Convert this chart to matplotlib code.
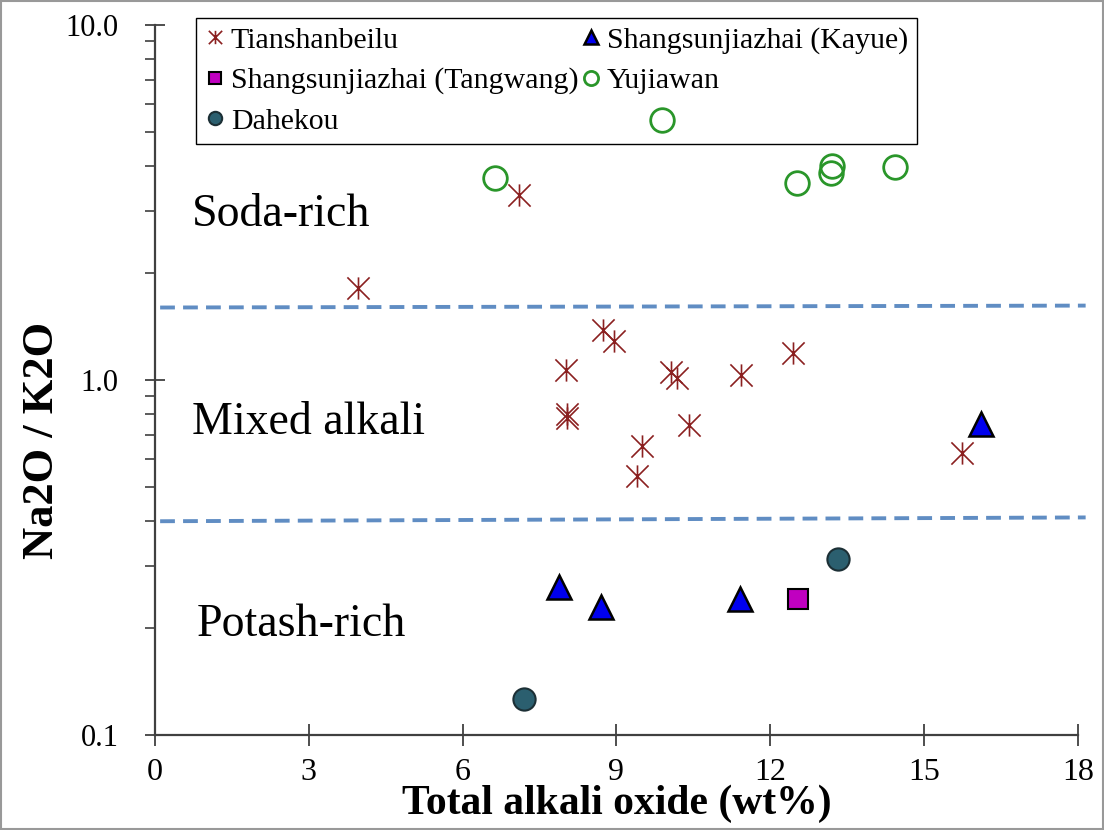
import matplotlib
matplotlib.use('Agg')
import matplotlib.pyplot as plt
from matplotlib.path import Path
from matplotlib.patches import Rectangle

plt.rcParams['font.family'] = ['Liberation Serif', 'DejaVu Serif']

# Total alkali (wt%) vs Na2O/K2O for each locality
tian_x = [3.96, 7.10, 8.01, 8.03, 8.03, 8.74, 8.95, 10.06, 10.18, 11.43, 12.44, 10.41, 9.50, 9.40, 15.74]
tian_y = [1.82, 3.32, 1.07, 0.80, 0.78, 1.38, 1.29, 1.05, 1.01, 1.03, 1.19, 0.747, 0.652, 0.537, 0.623]

kayue_x = [7.88, 8.70, 11.41, 16.11]
kayue_y = [0.261, 0.229, 0.242, 0.751]

tang_x = [12.54]
tang_y = [0.242]

yuji_x = [6.63, 9.89, 13.18, 13.20, 12.52, 14.43]
yuji_y = [3.71, 5.40, 3.83, 4.01, 3.59, 3.98]

dahe_x = [7.20, 13.32]
dahe_y = [0.126, 0.313]

# limites entre os campos
lim_x = [0.1, 18.15]
soda_lim = [1.60, 1.62]
potash_lim = [0.40, 0.41]

zonas = [('Soda-rich', 0.72, 2.92), ('Mixed alkali', 0.72, 0.757), ('Potash-rich', 0.82, 0.204)]

# asterisco estilo Excel: linha vertical + X
asterisco = Path([(0, -1), (0, 1), (-1, -1), (1, 1), (-1, 1), (1, -1)],
                 [Path.MOVETO, Path.LINETO, Path.MOVETO, Path.LINETO, Path.MOVETO, Path.LINETO])

fig = plt.figure(figsize=(11.04, 8.3), dpi=100)
ax = fig.add_axes([0.1404, 0.1145, 0.8360, 0.8554])

azul = '#4f81bd'
ax.plot(lim_x, soda_lim, color=azul, lw=2.8, dashes=(3.8, 2.1), alpha=0.9, clip_on=False)
ax.plot(lim_x, potash_lim, color=azul, lw=2.8, dashes=(3.8, 2.1), alpha=0.9, clip_on=False)

h1, = ax.plot(tian_x, tian_y, ls='none', marker=asterisco, ms=16, mew=1.2,
              mec='#8b2020', mfc='none', label='Tianshanbeilu', zorder=6)
h2, = ax.plot(kayue_x, kayue_y, ls='none', marker='^', ms=17, mew=1.8,
              mec='black', mfc='#0000ee', label='Shangsunjiazhai (Kayue)', zorder=6)
h3, = ax.plot(tang_x, tang_y, ls='none', marker='s', ms=15, mew=1.5,
              mec='black', mfc='#c000c0', label='Shangsunjiazhai (Tangwang)', zorder=6)
h4, = ax.plot(yuji_x, yuji_y, ls='none', marker='o', ms=17, mew=2,
              mec='#2a962a', mfc='none', label='Yujiawan', zorder=6)
h5, = ax.plot(dahe_x, dahe_y, ls='none', marker='o', ms=16, mew=1.5,
              mec='#1c2f35', mfc='#2b5f6f', label='Dahekou', zorder=6)

for txt, xt, yt in zonas:
    ax.text(xt, yt, txt, fontsize=33, va='center', ha='left')

ax.set_yscale('log')
ax.set_xlim(0, 18)
ax.set_ylim(0.1, 10)
ax.set_xticks([0, 3, 6, 9, 12, 15, 18])
ax.set_yticks([0.1, 1, 10])
ax.set_yticklabels(['0.1', '1.0', '10.0'])

for lado in ['top', 'right']:
    ax.spines[lado].set_visible(False)
for lado in ['left', 'bottom']:
    ax.spines[lado].set_color('#404040')
    ax.spines[lado].set_linewidth(1.6)

ax.tick_params(axis='x', which='major', direction='inout', length=16.5, width=1.3,
               color='#404040', labelsize=23, pad=8)
ax.tick_params(axis='y', which='major', direction='inout', length=14.4, width=1.3,
               color='#404040', labelsize=22, pad=19)
ax.tick_params(axis='y', which='minor', direction='out', length=7, width=1.2, color='#404040')

ax.set_xlabel('Total alkali oxide (wt%)', fontsize=30, fontweight='bold')
ax.set_ylabel('Na2O / K2O', fontsize=32, fontweight='bold')
ax.xaxis.set_label_coords(0.5, -0.070)
ax.yaxis.set_label_coords(-0.101, 0.415)

leg = ax.legend(handles=[h1, h3, h5, h2, h4], ncol=2, loc='upper left',
                bbox_to_anchor=(0.0444, 1.01), borderaxespad=0, fontsize=21.5,
                markerscale=0.6, handlelength=0.7, handletextpad=0.17,
                columnspacing=0.07, labelspacing=0.45, borderpad=0.3,
                fancybox=False, framealpha=1, edgecolor='black')
leg.get_frame().set_linewidth(1.0)
leg.set_zorder(3)  # pontos ficam por cima da legenda

# moldura cinza em volta da figura
fig.patches.append(Rectangle((0.001, 0.001), 0.998, 0.998, transform=fig.transFigure,
                             fill=False, edgecolor='#999999', lw=1.5))

fig.savefig('out.png', dpi=100)
